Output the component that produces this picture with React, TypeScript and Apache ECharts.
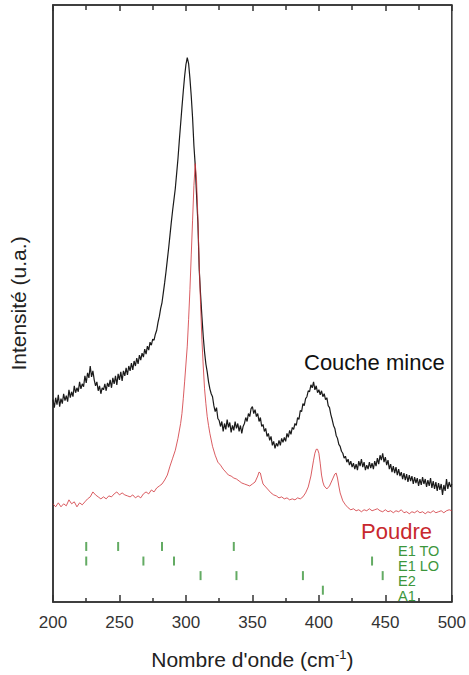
import React, { useEffect, useRef } from "react";
import * as echarts from "echarts";

// Raman spectrum: thin film (Couche mince)
const coucheMince: [number, number][] = [
  [200,204],[201,196],[202,206],[203,199],[204,209],[205,197],[206,205],[207,200],[208,210],[209,203],[210,208],[211,202],[212,214],[213,206],[214,212],[215,207],[216,218],[217,211],[218,216],[219,212],[220,222],[221,215],[222,220],[223,217],[224,228],[225,221],[226,231],[227,226],[228,238],[229,227],[230,233],[231,224],[232,218],[233,222],[234,213],[235,218],[236,210],[237,216],[238,214],[239,220],[240,213],[241,221],[242,217],[243,224],[244,216],[245,226],[246,220],[247,228],[248,219],[249,230],[250,224],[251,232],[252,223],[253,233],[254,228],[255,236],[256,229],[257,238],[258,233],[259,241],[260,234],[261,243],[262,238],[263,246],[264,240],[265,249],[266,244],[267,251],[268,247],[269,255],[270,250],[271,258],[272,254],[273,262],[274,259],[275,265],[276,264],[277,270],[278,274],[279,282],[280,288],[281,296],[282,302],[283,312],[284,322],[285,333],[286,345],[287,357],[288,370],[289,383],[290,395],[291,406],[292,417],[293,432],[294,447],[295,465],[296,482],[297,499],[298,515],[299,530],[300,542],[301,549],[302,543],[303,528],[304,510],[305,488],[306,460],[307,440],[308,410],[309,382],[310,335],[311,310],[312,288],[313,268],[314,252],[315,240],[316,232],[317,222],[318,215],[319,210],[320,207],[321,198],[322,192],[323,196],[324,185],[325,183],[326,177],[327,182],[328,172],[329,180],[330,174],[331,184],[332,176],[333,181],[334,171],[335,178],[336,173],[337,182],[338,175],[339,180],[340,172],[341,178],[342,170],[343,177],[344,180],[345,186],[346,182],[347,190],[348,187],[349,195],[350,197],[351,190],[352,194],[353,187],[354,190],[355,182],[356,186],[357,177],[358,179],[359,172],[360,175],[361,167],[362,170],[363,163],[364,167],[365,158],[366,162],[367,155],[368,160],[369,157],[370,163],[371,158],[372,165],[373,161],[374,166],[375,162],[376,170],[377,166],[378,173],[379,169],[380,176],[381,174],[382,180],[383,178],[384,186],[385,184],[386,193],[387,192],[388,200],[389,198],[390,205],[391,207],[392,213],[393,212],[394,219],[395,216],[396,222],[397,214],[398,218],[399,211],[400,214],[401,209],[402,213],[403,207],[404,210],[405,204],[406,206],[407,198],[408,196],[409,189],[410,184],[411,178],[412,175],[413,168],[414,165],[415,159],[416,157],[417,152],[418,150],[419,145],[420,147],[421,141],[422,144],[423,138],[424,142],[425,136],[426,140],[427,134],[428,139],[429,133],[430,142],[431,137],[432,144],[433,136],[434,141],[435,133],[436,138],[437,134],[438,141],[439,135],[440,140],[441,134],[442,142],[443,137],[444,145],[445,139],[446,148],[447,143],[448,150],[449,141],[450,146],[451,138],[452,143],[453,134],[454,139],[455,131],[456,137],[457,130],[458,136],[459,128],[460,134],[461,127],[462,131],[463,124],[464,130],[465,123],[466,129],[467,121],[468,128],[469,122],[470,127],[471,119],[472,126],[473,120],[474,125],[475,117],[476,124],[477,118],[478,126],[479,119],[480,124],[481,116],[482,123],[483,117],[484,125],[485,115],[486,122],[487,114],[488,121],[489,112],[490,120],[491,113],[492,119],[493,108],[494,118],[495,112],[496,124],[497,114],[498,121],[499,116],[500,119]
];

// Raman spectrum: powder (Poudre)
const poudre: [number, number][] = [
  [200,99],[202,96],[204,100],[206,96],[208,99],[210,97],[212,103],[214,99],[216,101],[218,96],[220,100],[222,98],[224,101],[226,104],[228,106],[230,111],[232,108],[234,106],[236,104],[238,106],[240,104],[242,107],[244,106],[246,109],[248,111],[250,108],[252,110],[254,108],[256,107],[258,106],[260,108],[262,105],[264,107],[266,105],[268,109],[270,111],[272,109],[274,113],[276,111],[278,115],[280,117],[282,119],[284,123],[286,128],[288,137],[290,145],[292,153],[294,165],[296,180],[297,190],[298,205],[299,222],[300,240],[301,258],[302,285],[303,315],[304,350],[305,385],[306,420],[307,442],[308,425],[309,387],[310,340],[311,300],[312,265],[313,238],[314,215],[315,200],[316,187],[317,178],[318,170],[320,157],[322,148],[324,141],[326,138],[328,134],[330,131],[332,128],[334,127],[336,125],[338,124],[340,122],[342,120],[344,119],[346,118],[348,117],[350,119],[352,121],[354,127],[355,131],[356,130],[357,124],[358,119],[360,116],[362,113],[364,110],[366,108],[368,107],[370,105],[372,106],[374,104],[376,105],[378,103],[380,104],[382,103],[384,105],[386,104],[388,106],[390,110],[392,116],[394,127],[396,143],[397,150],[398,154],[399,154],[400,150],[401,140],[402,128],[403,121],[404,117],[406,114],[408,117],[410,123],[412,129],[413,130],[414,125],[415,117],[416,110],[418,102],[420,98],[422,95],[424,93],[426,94],[428,92],[430,93],[432,91],[434,93],[436,92],[438,94],[440,92],[442,93],[444,94],[446,92],[448,91],[450,93],[452,91],[454,92],[456,90],[458,92],[460,91],[462,93],[464,90],[466,91],[468,89],[470,91],[472,90],[474,92],[476,90],[478,91],[480,89],[482,91],[484,90],[486,92],[488,90],[490,91],[492,92],[494,90],[496,92],[498,93],[500,92]
];

// Reference phonon mode positions (cm-1)
const modeNames = ["E1 TO", "E1 LO", "E2", "A1"];
const e1TO = [225, 249, 282, 336];
const e1LO = [225, 268, 291, 440];
const e2 = [311, 338, 388, 448];
const a1 = [403];

const xTicks = [200, 250, 300, 350, 400, 450, 500];

const FONT = "'Liberation Sans', Arial, Helvetica, sans-serif";
const GREEN = "#3c963c";

export default function App() {
  const ref = useRef<HTMLDivElement>(null);
  useEffect(() => {
    if (!ref.current) return;
    const chart = echarts.init(ref.current, undefined, { renderer: "svg" });
    const modeLists = [e1TO, e1LO, e2, a1];
    const rowTop = 56;
    const rowStep = 14.7;
    const modeSeries = modeLists.map((list, i) => ({
      type: "scatter",
      name: modeNames[i],
      symbol: "rect",
      symbolSize: [2, 9],
      itemStyle: { color: GREEN },
      silent: true,
      data: list.map((v) => [v, rowTop - i * rowStep]),
      z: 3,
    }));
    chart.setOption({
      animation: false,
      grid: {
        left: 52,
        right: 15,
        top: 5,
        bottom: 68,
        show: true,
        borderColor: "#333",
        borderWidth: 1.5,
        backgroundColor: "transparent",
      },
      xAxis: [
        {
          type: "value",
          min: xTicks[0],
          max: xTicks[xTicks.length - 1],
          interval: 50,
          position: "bottom",
          axisLine: { show: true, lineStyle: { color: "#333", width: 1.5 } },
          axisTick: { show: true, inside: true, length: 7, lineStyle: { color: "#333", width: 1.5 } },
          minorTick: { show: true, splitNumber: 2, length: 4, lineStyle: { color: "#333", width: 1.5 } },
          splitLine: { show: false },
          axisLabel: { color: "#333", fontSize: 17, fontFamily: FONT, margin: 12 },
          name: "Nombre d'onde (cm{sup|-1})",
          nameLocation: "middle",
          nameGap: 46,
          nameTextStyle: {
            color: "#222",
            fontSize: 21,
            fontFamily: FONT,
            rich: {
              sup: { fontSize: 13, fontFamily: FONT, color: "#222", padding: [0, 0, 10, 0] },
            },
          },
        },
        {
          type: "value",
          min: xTicks[0],
          max: xTicks[xTicks.length - 1],
          interval: 50,
          position: "top",
          axisLine: { show: true, lineStyle: { color: "#333", width: 1.5 } },
          axisTick: { show: true, inside: true, length: 6, lineStyle: { color: "#333", width: 1.5 } },
          minorTick: { show: true, splitNumber: 2, length: 5, lineStyle: { color: "#333", width: 1.5 } },
          splitLine: { show: false },
          axisLabel: { show: false },
        },
      ],
      yAxis: {
        type: "value",
        min: 0,
        max: 602,
        axisLine: { show: true, lineStyle: { color: "#333", width: 1.5 } },
        axisTick: { show: false },
        axisLabel: { show: false },
        splitLine: { show: false },
        name: "Intensité (u.a.)",
        nameLocation: "middle",
        nameGap: 24,
        nameRotate: 90,
        nameTextStyle: { color: "#222", fontSize: 21, fontFamily: FONT },
      },
      series: [
        {
          type: "line",
          name: "Couche mince",
          data: coucheMince,
          showSymbol: false,
          lineStyle: { color: "#1a1a1a", width: 1.2 },
          z: 2,
        },
        {
          type: "line",
          name: "Poudre",
          data: poudre,
          showSymbol: false,
          lineStyle: { color: "#d0343a", width: 0.8 },
          z: 2,
        },
        ...modeSeries,
      ],
      graphic: [
        {
          type: "text",
          left: 304,
          top: 351,
          style: { text: "Couche mince", fill: "#111", fontSize: 22, fontFamily: FONT },
        },
        {
          type: "text",
          left: 361,
          top: 520,
          style: { text: "Poudre", fill: "#c8282e", fontSize: 22, fontFamily: FONT },
        },
        ...modeNames.map((n, i) => ({
          type: "text",
          left: 398,
          top: 543 + i * 15,
          style: { text: n, fill: GREEN, fontSize: 14.5, fontFamily: FONT },
        })),
      ],
    });
    return () => chart.dispose();
  }, []);
  return (
    <div
      ref={ref}
      style={{ position: "fixed", left: 0, top: 0, width: 469, height: 675, background: "#fff" }}
    />
  );
}
